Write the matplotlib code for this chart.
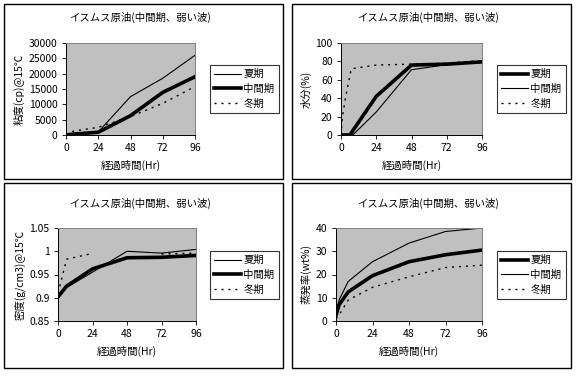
import matplotlib
matplotlib.use("Agg")
import matplotlib.pyplot as plt
from matplotlib.patches import Rectangle
from matplotlib.ticker import FuncFormatter
import numpy as np

plt.rcParams['font.family'] = ['Noto Sans CJK JP', 'DejaVu Sans']
plt.rcParams['font.size'] = 7

W, H = 576, 386

title = "イスムス原油(中間期、弱い波)"
xlabel = "経過時間(Hr)"
xticks = [0, 24, 48, 72, 96]
labels = ["夏期", "中間期", "冬期"]

# viscosity
visc_t = [0, 6, 24, 48, 72, 96]
visc_summer = [0, 300, 1000, 12500, 18500, 26000]
visc_mid = [0, 300, 900, 6300, 13900, 19000]
visc_winter = [0, 1300, 2500, 6000, 10300, 15800]

# water content
water_t_sm = [0, 6, 24, 48, 72, 96]
water_summer = [0, 0, 42, 76, 77, 79.5]
water_t_mid = [0, 8, 24, 48, 57, 72, 96]
water_mid = [0, 0, 25, 71, 73, 76.5, 80]
water_t_w = [0, 1, 3, 7, 24, 48, 72, 96]
water_winter = [0, 20, 40, 72, 76, 77, 78, 81]

# density
dens_t = [0, 6, 24, 48, 72, 96]
dens_summer = [0.907, 0.922, 0.955, 1.0, 0.996, 1.004]
dens_mid = [0.902, 0.925, 0.962, 0.986, 0.987, 0.991]
dens_t_w = [0, 3, 6, 22, 48, 72, 96]
dens_winter = [0.91, 0.946, 0.983, 0.994, np.nan, 0.994, 0.996]

# evaporation
evap_t = [0, 2, 8, 24, 48, 72, 96]
evap_summer = [2.5, 7, 12.5, 19.5, 25.5, 28.5, 30.5]
evap_mid = [3, 9, 17, 25.5, 33.5, 38.5, 40]
evap_winter = [1, 2.5, 9, 14.5, 19, 23, 24]

thin = dict(color='black', lw=0.8)
thick = dict(color='black', lw=2.6)
dots = dict(color='black', lw=1.0, linestyle=(0, (1.5, 3.5)))


def fr(x0, y0, x1, y1):
    return [x0 / W, 1 - y1 / H, (x1 - x0) / W, (y1 - y0) / H]


fig = plt.figure(figsize=(W / 100, H / 100), dpi=100)
fig.patch.set_facecolor('white')

# panel frames
for (x0, y0, x1, y1) in [(4, 4, 283, 179), (292, 4, 571, 179),
                         (4, 183, 283, 368), (292, 183, 571, 368)]:
    fig.patches.append(Rectangle((x0 / W, 1 - y1 / H), (x1 - x0) / W, (y1 - y0) / H,
                                 transform=fig.transFigure, fill=False,
                                 edgecolor='black', lw=1.0))


def setup(ax, ylim, yticks, ylabel, fmt=None):
    ax.set_facecolor('#c0c0c0')
    ax.set_xlim(0, 96)
    ax.set_ylim(*ylim)
    ax.set_xticks(xticks)
    ax.set_yticks(yticks)
    if fmt:
        ax.yaxis.set_major_formatter(FuncFormatter(fmt))
    ax.tick_params(direction='out', length=3, width=0.6, labelsize=7.5, pad=3)
    for s in ['top', 'right']:
        ax.spines[s].set_color('#808080')
    for s in ['left', 'bottom']:
        ax.spines[s].set_color('black')
    for s in ax.spines.values():
        s.set_linewidth(0.7)
    ax.set_ylabel(ylabel, fontsize=7.5, labelpad=3)
    ax.set_xlabel(xlabel, fontsize=7.5, labelpad=5)


def legend(handles, x0, y0):
    lg = fig.legend(handles, labels, loc='upper left',
                    bbox_to_anchor=(x0 / W, 1 - y0 / H), bbox_transform=fig.transFigure,
                    fontsize=7.5, frameon=True, fancybox=False, handlelength=2.6,
                    handletextpad=0.2, borderpad=0.4, labelspacing=0.45,
                    borderaxespad=0)
    lg.get_frame().set_edgecolor('black')
    lg.get_frame().set_linewidth(0.8)


# top-left: viscosity
ax1 = fig.add_axes(fr(66, 43, 195, 135))
h1 = ax1.plot(visc_t, visc_summer, **thin)
h2 = ax1.plot(visc_t, visc_mid, **thick)
h3 = ax1.plot(visc_t, visc_winter, **dots)
setup(ax1, (0, 30000), range(0, 30001, 5000), "粘度(cp)@15℃")
legend([h1[0], h2[0], h3[0]], 210, 65)
fig.text(140 / W, 1 - 17 / H, title, ha='center', va='center', fontsize=7.5)

# top-right: water
ax2 = fig.add_axes(fr(341, 43, 482, 135))
h1 = ax2.plot(water_t_sm, water_summer, **thick)
h2 = ax2.plot(water_t_mid, water_mid, **thin)
h3 = ax2.plot(water_t_w, water_winter, **dots)
setup(ax2, (0, 100), range(0, 101, 20), "水分(%)")
legend([h1[0], h2[0], h3[0]], 497, 65)
fig.text(428 / W, 1 - 17 / H, title, ha='center', va='center', fontsize=7.5)

# bottom-left: density
ax3 = fig.add_axes(fr(58, 228, 196, 321))
h1 = ax3.plot(dens_t, dens_summer, **thin)
h2 = ax3.plot(dens_t, dens_mid, **thick)
h3 = ax3.plot(dens_t_w, dens_winter, **dots)
setup(ax3, (0.85, 1.05), [0.85, 0.9, 0.95, 1.0, 1.05], "密度(g/cm3)@15℃",
      fmt=lambda v, p: f"{v:g}")
legend([h1[0], h2[0], h3[0]], 210, 251)
fig.text(140 / W, 1 - 203 / H, title, ha='center', va='center', fontsize=7.5)

# bottom-right: evaporation
ax4 = fig.add_axes(fr(336, 228, 482, 321))
h1 = ax4.plot(evap_t, evap_summer, **thick)
h2 = ax4.plot(evap_t, evap_mid, **thin)
h3 = ax4.plot(evap_t, evap_winter, **dots)
setup(ax4, (0, 40), range(0, 41, 10), "蒸発率(wt%)")
legend([h1[0], h2[0], h3[0]], 497, 251)
fig.text(428 / W, 1 - 203 / H, title, ha='center', va='center', fontsize=7.5)

fig.savefig("out.png", dpi=100, facecolor='white')
